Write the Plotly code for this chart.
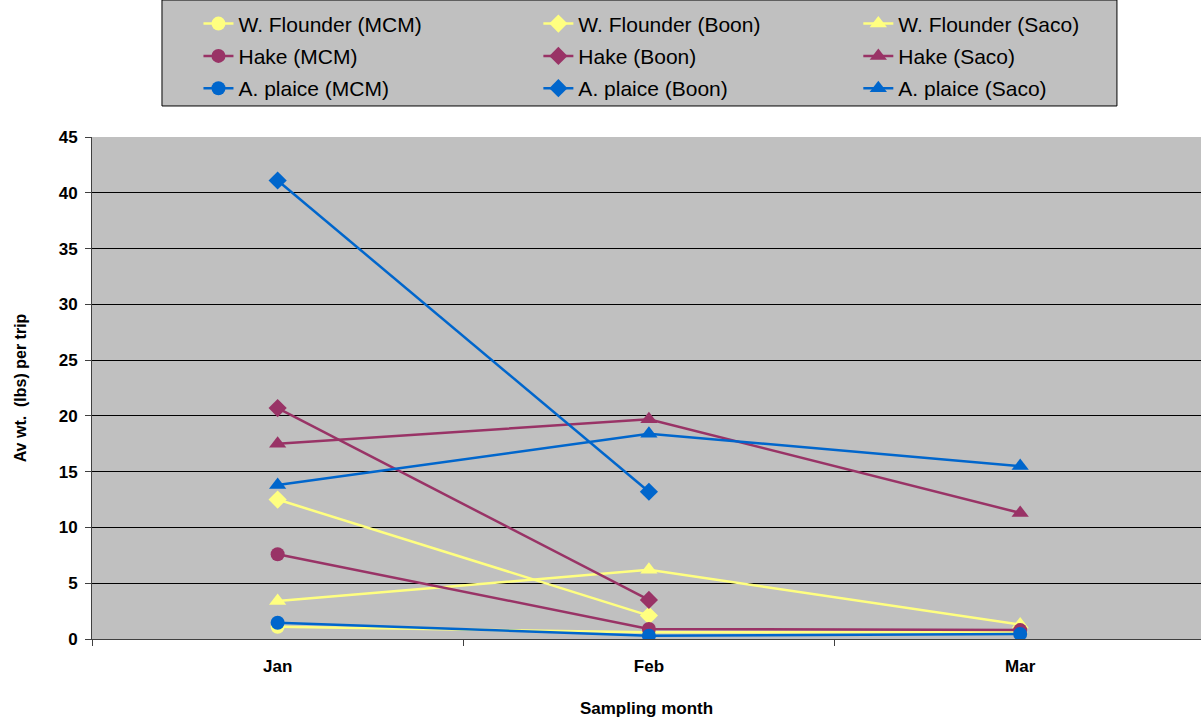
import plotly.graph_objects as go

# Sampling months and average weight (lbs) per trip for each species / site
months = ["Jan", "Feb", "Mar"]

wf_mcm = [1.1, 0.6, 0.6]
wf_boon = [12.5, 2.1, None]
wf_saco = [3.4, 6.2, 1.3]

hake_mcm = [7.6, 0.9, 0.8]
hake_boon = [20.7, 3.5, None]
hake_saco = [17.5, 19.7, 11.3]

ap_mcm = [1.45, 0.3, 0.45]
ap_boon = [41.1, 13.2, None]
ap_saco = [13.8, 18.4, 15.5]

YELLOW = "#FFFF80"
MAROON = "#993366"
BLUE = "#0066CC"
FONT = "Liberation Sans, Arial, sans-serif"

# legend column: MCM -> legend, Boon -> legend2, Saco -> legend3
series = [
    ("W. Flounder (MCM)", wf_mcm, YELLOW, "circle", "legend"),
    ("W. Flounder (Boon)", wf_boon, YELLOW, "diamond", "legend2"),
    ("W. Flounder (Saco)", wf_saco, YELLOW, "triangle-up", "legend3"),
    ("Hake (MCM)", hake_mcm, MAROON, "circle", "legend"),
    ("Hake (Boon)", hake_boon, MAROON, "diamond", "legend2"),
    ("Hake (Saco)", hake_saco, MAROON, "triangle-up", "legend3"),
    ("A. plaice (MCM)", ap_mcm, BLUE, "circle", "legend"),
    ("A. plaice (Boon)", ap_boon, BLUE, "diamond", "legend2"),
    ("A. plaice (Saco)", ap_saco, BLUE, "triangle-up", "legend3"),
]

fig = go.Figure()
for name, vals, color, symbol, leg in series:
    fig.add_trace(go.Scatter(
        x=months, y=vals, name=name, mode="lines+markers",
        line=dict(color=color, width=2.5),
        marker=dict(symbol=symbol, size=14 if symbol != "triangle-up" else 15,
                    color=color),
        legend=leg, legendgroup=name,
    ))

legend_common = dict(
    orientation="v", xanchor="left", yanchor="top", y=1.266,
    bgcolor="rgba(0,0,0,0)", borderwidth=0, tracegroupgap=2,
    font=dict(family=FONT, size=21, color="black"),
    itemclick=False, itemdoubleclick=False,
)

fig.update_layout(
    width=1201, height=725,
    margin=dict(l=92, r=0, t=137, b=86, autoexpand=False),
    paper_bgcolor="white", plot_bgcolor="#C0C0C0",
    font=dict(family=FONT, color="black"),
    legend=dict(legend_common, x=0.096),
    legend2=dict(legend_common, x=0.4025),
    legend3=dict(legend_common, x=0.691),
    xaxis=dict(
        type="category", range=[-0.5, 2.487],
        tickson="boundaries", ticks="outside", ticklen=6,
        tickcolor="#404040", showline=True, linecolor="#404040", linewidth=1,
        showgrid=False, ticklabelstandoff=12,
        tickfont=dict(family=FONT, size=17, weight="bold"),
        title=dict(text="Sampling month", standoff=26,
                   font=dict(family=FONT, size=17, weight="bold")),
    ),
    yaxis=dict(
        range=[0, 45], dtick=5, ticks="outside", ticklen=6,
        tickcolor="#404040", showline=True, linecolor="#404040", linewidth=1,
        showgrid=True, gridcolor="black", gridwidth=1,
        zeroline=False, ticklabelstandoff=4,
        tickfont=dict(family=FONT, size=17, weight="bold"),
        title=dict(text="Av wt.  (lbs) per trip", standoff=28,
                   font=dict(family=FONT, size=16, weight="bold")),
    ),
    shapes=[dict(
        type="rect", xref="paper", yref="paper",
        x0=0.0631, x1=0.9242, y0=1.0618, y1=1.2729,
        line=dict(color="black", width=1), fillcolor="#C0C0C0", layer="below",
    )],
)

fig.write_html("out.html")
